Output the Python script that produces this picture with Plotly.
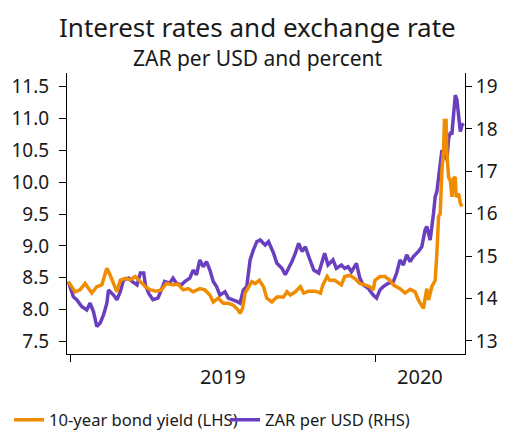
import pandas as pd
import plotly.graph_objects as go

# ---- data ----
# days counted from 2019-01-01
yield_days = [-2, 6, 12, 18, 26, 32, 38, 44, 48, 52,
              56, 60, 66, 72, 78, 84, 90, 96, 103, 109,
              115, 123, 129, 135, 141, 147, 155, 161, 167, 171,
              177, 183, 189, 195, 201, 203, 206, 209, 213, 217,
              221, 226, 231, 235, 241, 247, 255, 259, 263, 269,
              275, 279, 285, 293, 299, 302, 307, 310, 316, 324,
              328, 334, 340, 346, 352, 358, 362, 364, 370, 376,
              382, 386, 394, 400, 406, 412, 416, 420, 422, 426,
              428, 432, 436, 438, 440, 442, 444, 446, 447, 449,
              450, 452, 454, 456, 458, 460, 461, 464, 466, 468]
yield_vals = [8.44, 8.28, 8.31, 8.41, 8.26, 8.36, 8.39, 8.65, 8.54, 8.41,
              8.28, 8.46, 8.49, 8.47, 8.52, 8.44, 8.36, 8.31, 8.29, 8.31,
              8.41, 8.39, 8.40, 8.31, 8.33, 8.28, 8.33, 8.31, 8.23, 8.12,
              8.18, 8.10, 8.10, 8.07, 7.99, 7.94, 8.02, 8.26, 8.36, 8.44,
              8.41, 8.46, 8.36, 8.18, 8.12, 8.20, 8.20, 8.28, 8.23, 8.28,
              8.36, 8.26, 8.29, 8.29, 8.26, 8.39, 8.52, 8.46, 8.46, 8.39,
              8.52, 8.54, 8.49, 8.41, 8.39, 8.36, 8.31, 8.46, 8.52, 8.52,
              8.46, 8.39, 8.33, 8.26, 8.32, 8.28, 8.15, 8.05, 8.02, 8.33,
              8.15, 8.36, 8.46, 8.88, 9.46, 9.51, 10.19, 10.50, 10.97, 10.97,
              10.45, 10.08, 10.03, 9.77, 10.06, 10.08, 9.77, 9.82, 9.67, 9.62]

fx_days = [-2, 4, 8, 14, 20, 24, 28, 32, 36, 40,
           44, 46, 52, 56, 60, 64, 70, 74, 80, 84,
           88, 90, 94, 99, 105, 109, 113, 119, 123, 127,
           133, 137, 143, 147, 151, 155, 159, 163, 167, 171,
           175, 179, 185, 189, 195, 199, 203, 207, 211, 215,
           219, 223, 227, 233, 237, 243, 247, 253, 257, 261,
           265, 269, 273, 277, 281, 285, 291, 297, 302, 304,
           308, 314, 318, 324, 328, 332, 336, 342, 346, 350,
           356, 362, 366, 370, 374, 380, 386, 390, 394, 398,
           402, 406, 410, 416, 420, 424, 426, 430, 434, 436,
           438, 440, 442, 444, 448, 450, 452, 454, 456, 458,
           460, 462, 464, 466, 468, 470]
fx_vals = [14.40, 14.04, 13.97, 13.81, 13.73, 13.89, 13.69, 13.34, 13.42, 13.61,
           13.89, 14.20, 14.08, 13.97, 14.16, 14.44, 14.48, 14.40, 14.32, 14.60,
           14.60, 14.32, 14.12, 13.97, 14.01, 14.20, 14.40, 14.36, 14.48, 14.36,
           14.32, 14.40, 14.48, 14.67, 14.56, 14.91, 14.75, 14.87, 14.67, 14.40,
           14.28, 14.08, 14.16, 14.01, 13.97, 13.93, 13.89, 14.20, 14.28, 14.91,
           15.15, 15.34, 15.38, 15.26, 15.34, 15.07, 14.83, 14.71, 14.56, 14.71,
           14.87, 15.07, 15.30, 15.11, 15.22, 14.99, 14.67, 14.60, 14.99, 15.07,
           14.79, 14.91, 14.71, 14.79, 14.71, 14.75, 14.63, 14.83, 14.48, 14.32,
           14.24, 14.08, 14.01, 14.20, 14.28, 14.36, 14.40, 14.60, 14.91, 14.79,
           15.03, 14.87, 14.99, 15.11, 15.22, 15.62, 15.70, 15.38, 16.01, 16.40,
           16.52, 16.80, 17.11, 17.50, 17.35, 17.27, 17.78, 17.90, 17.90, 18.45,
           18.80, 18.68, 18.21, 17.94, 18.09, 18.13]

base_date = pd.Timestamp("2019-01-01")
year_ticks = ["2019-01-01", "2020-01-01"]
year_labels = ["2019", "2020"]
x_start = pd.Timestamp("2018-12-28 10:00")
x_end = pd.Timestamp("2020-04-16 14:00")

left_ticks = [7.5, 8.0, 8.5, 9.0, 9.5, 10.0, 10.5, 11.0, 11.5]
right_ticks = [13, 14, 15, 16, 17, 18, 19]

yield_dates = base_date + pd.to_timedelta(yield_days, unit="D")
fx_dates = base_date + pd.to_timedelta(fx_days, unit="D")

ORANGE = "#EF8C00"
PURPLE = "#6A3FBF"
FONT = "Noto Sans"
TXT = "#1a1a1a"

# page body has an 8px margin, so the figure is drawn 8px in from the window edge
OFF = 8
W, H = 506 - OFF, 430 - OFF
PL, PR, PT, PB = 67 - OFF, 465 - OFF, 73 - OFF, 354 - OFF


def px_x(x):
    return (x - OFF - PL) / (PR - PL)


def px_y(y):
    return (PB - (y - OFF)) / (PB - PT)


fig = go.Figure()
fig.add_trace(go.Scatter(x=yield_dates, y=yield_vals, name="10-year bond yield (LHS)",
                         mode="lines", line=dict(color=ORANGE, width=3.5), yaxis="y2"))
fig.add_trace(go.Scatter(x=fx_dates, y=fx_vals, name="ZAR per USD (RHS)",
                         mode="lines", line=dict(color=PURPLE, width=3.5), yaxis="y"))

# year labels centred between tick and next tick / axis end
bounds = [pd.Timestamp(t) for t in year_ticks] + [x_end]
annotations = []
for i, lab in enumerate(year_labels):
    mid = bounds[i] + (bounds[i + 1] - bounds[i]) / 2
    annotations.append(dict(x=mid, xref="x", y=px_y(361), yref="paper", text=lab,
                            showarrow=False, yanchor="top", xanchor="center",
                            font=dict(family=FONT, size=20, color=TXT)))
annotations.append(dict(x=px_x(257.5), xref="paper", y=px_y(8.3), yref="paper",
                        text="Interest rates and exchange rate", showarrow=False,
                        xanchor="center", yanchor="top", borderpad=0,
                        font=dict(family=FONT, size=26, color=TXT)))
annotations.append(dict(x=px_x(257.5), xref="paper", y=px_y(41.5), yref="paper",
                        text="ZAR per USD and percent", showarrow=False,
                        xanchor="center", yanchor="top",
                        font=dict(family=FONT, size=21, color=TXT)))

fig.update_layout(
    width=W, height=H,
    margin=dict(l=PL, r=W - PR, t=PT, b=H - PB, pad=0, autoexpand=False),
    paper_bgcolor="white", plot_bgcolor="white",
    font=dict(family=FONT, color=TXT),
    showlegend=True,
    legend=dict(orientation="h", x=px_x(9), xanchor="left", y=px_y(420), yanchor="middle",
                font=dict(family=FONT, size=16.6, color=TXT), itemwidth=30,
                entrywidth=171, entrywidthmode="pixels",
                bgcolor="rgba(0,0,0,0)", traceorder="normal"),
    xaxis=dict(type="date", range=[x_start, x_end], tickvals=year_ticks,
               showticklabels=False, ticks="outside", ticklen=7, tickcolor="black",
               showline=True, linecolor="black", linewidth=1, showgrid=False,
               zeroline=False),
    yaxis=dict(side="right", range=[12.69, 19.32], tickvals=right_ticks,
               ticks="outside", ticklen=6, tickcolor="black", showline=True,
               linecolor="black", linewidth=1, showgrid=False, zeroline=False,
               tickfont=dict(family=FONT, size=19, color=TXT), ticklabelstandoff=0),
    yaxis2=dict(side="left", overlaying="y", range=[7.304, 11.715], tickvals=left_ticks,
                tickformat=".1f", ticks="outside", ticklen=7, tickcolor="black",
                showline=True, linecolor="black", linewidth=1, showgrid=False,
                zeroline=False, tickfont=dict(family=FONT, size=19, color=TXT),
                ticklabelstandoff=6),
    annotations=annotations,
)

fig.write_html("out.html")
